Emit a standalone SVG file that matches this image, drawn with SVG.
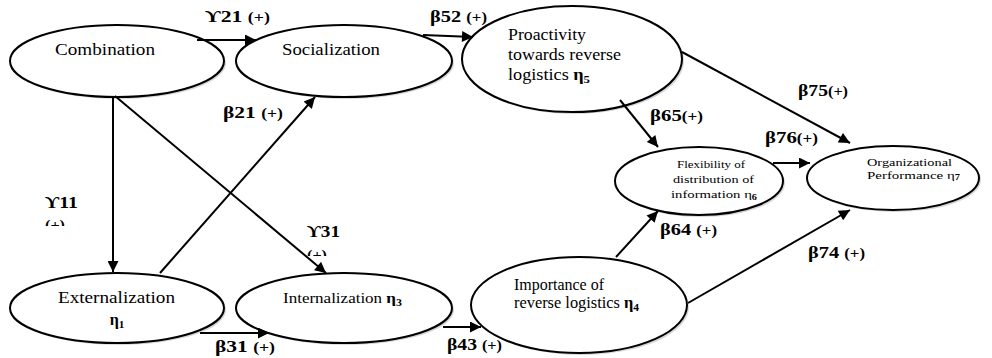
<svg xmlns="http://www.w3.org/2000/svg" width="992" height="358" viewBox="0 0 992 358">
<style>
.n{fill:#fff;stroke:#000;stroke-width:2}
.sh{fill:#bbb;stroke:none;opacity:0.6}
.t{font-family:"Liberation Serif",serif;font-size:16px;fill:#000}
.ts{font-family:"Liberation Serif",serif;font-size:11px;fill:#000}
.eta{font-weight:bold}
.sub{font-size:70%;font-weight:bold}
.c{stroke:#000;stroke-width:2;fill:none;marker-end:url(#ah)}
.l{font-family:"Liberation Serif",serif;font-size:17px;font-weight:bold;fill:#000}
.p{font-size:14px}
</style>
<defs>
<marker id="ah" viewBox="0 0 10 10" refX="10" refY="5" markerWidth="6.5" markerHeight="5.5" markerUnits="strokeWidth" orient="auto">
<path d="M0,0 L10,5 L0,10 z" fill="#000"/>
</marker>
<clipPath id="clip1"><rect x="30" y="210" width="60" height="16"/></clipPath>
<clipPath id="clip2"><rect x="290" y="240" width="60" height="16"/></clipPath>
</defs>
<g id="n-combination">
<ellipse class="sh" cx="119" cy="63" rx="107" ry="36"/>
<ellipse class="n" cx="117" cy="61" rx="107" ry="36"/>
<text class="t" x="55" y="55" textLength="100" lengthAdjust="spacingAndGlyphs">Combination</text>
</g>
<g id="n-socialization">
<ellipse class="sh" cx="346" cy="63" rx="108" ry="36"/>
<ellipse class="n" cx="344" cy="61" rx="108" ry="36"/>
<text class="t" x="282" y="55" textLength="98" lengthAdjust="spacingAndGlyphs">Socialization</text>
</g>
<g id="n-proactivity">
<ellipse class="sh" cx="574" cy="61" rx="110" ry="53"/>
<ellipse class="n" cx="572" cy="59" rx="110" ry="53"/>
<text class="t" x="508" y="40" textLength="78" lengthAdjust="spacingAndGlyphs">Proactivity</text>
<text class="t" x="508" y="60" textLength="113" lengthAdjust="spacingAndGlyphs">towards reverse</text>
<text class="t" x="508" y="80" textLength="82" lengthAdjust="spacingAndGlyphs">logistics <tspan class="eta">η</tspan><tspan class="sub" dy="3">5</tspan></text>
</g>
<g id="n-flexibility">
<ellipse class="sh" cx="701" cy="183" rx="84" ry="34"/>
<ellipse class="n" cx="699" cy="181" rx="84" ry="34"/>
<text class="ts" x="677" y="168" textLength="68" lengthAdjust="spacingAndGlyphs">Flexibility of</text>
<text class="ts" x="673" y="183" textLength="81" lengthAdjust="spacingAndGlyphs">distribution of</text>
<text class="ts" x="671" y="198" textLength="86" lengthAdjust="spacingAndGlyphs">information η<tspan class="sub" dy="2">6</tspan></text>
</g>
<g id="n-organizational">
<ellipse class="sh" cx="895" cy="180" rx="86" ry="32"/>
<ellipse class="n" cx="893" cy="178" rx="86" ry="32"/>
<text class="ts" x="867" y="166" textLength="85" lengthAdjust="spacingAndGlyphs">Organizational</text>
<text class="ts" x="867" y="179" textLength="93" lengthAdjust="spacingAndGlyphs">Performance η<tspan class="sub" dy="1">7</tspan></text>
</g>
<g id="n-externalization">
<ellipse class="sh" cx="119" cy="310" rx="107" ry="35"/>
<ellipse class="n" cx="117" cy="308" rx="107" ry="35"/>
<text class="t" x="58" y="303" textLength="117" lengthAdjust="spacingAndGlyphs">Externalization</text>
<text class="t" x="117" y="325" text-anchor="middle"><tspan class="eta">η</tspan><tspan class="sub" dy="3">1</tspan></text>
</g>
<g id="n-internalization">
<ellipse class="sh" cx="346" cy="310" rx="108" ry="35"/>
<ellipse class="n" cx="344" cy="308" rx="108" ry="35"/>
<text class="t" x="283" y="303" textLength="119" lengthAdjust="spacingAndGlyphs" style="font-size:14px">Internalization <tspan class="eta">η</tspan><tspan class="sub" dy="3">3</tspan></text>
</g>
<g id="n-importance">
<ellipse class="sh" cx="581" cy="307" rx="108" ry="48"/>
<ellipse class="n" cx="579" cy="305" rx="108" ry="48"/>
<text class="t" x="514" y="290" textLength="90" lengthAdjust="spacingAndGlyphs">Importance of</text>
<text class="t" x="514" y="308" textLength="125" lengthAdjust="spacingAndGlyphs">reverse logistics <tspan class="eta">η</tspan><tspan class="sub" dy="3">4</tspan></text>
</g>
<g id="connectors">
<line class="c" x1="197" y1="40" x2="256" y2="40"/>
<line class="c" x1="423" y1="35" x2="473" y2="37"/>
<line class="c" x1="113" y1="97" x2="113" y2="272"/>
<line class="c" x1="115" y1="96" x2="326" y2="273"/>
<line class="c" x1="160" y1="273" x2="315" y2="97"/>
<line class="c" x1="200" y1="333" x2="269" y2="333"/>
<line class="c" x1="443" y1="327" x2="481" y2="327"/>
<line class="c" x1="620" y1="100" x2="658" y2="147"/>
<line class="c" x1="682" y1="52" x2="850" y2="143"/>
<line class="c" x1="773" y1="163" x2="810" y2="163"/>
<line class="c" x1="616" y1="257" x2="658" y2="211"/>
<line class="c" x1="688" y1="303" x2="850" y2="210"/>
</g>
<g id="labels">
<text class="l" x="205" y="22" textLength="65" lengthAdjust="spacingAndGlyphs">ϒ21 <tspan class="p">(+)</tspan></text>
<text class="l" x="430" y="22" textLength="57" lengthAdjust="spacingAndGlyphs">β52 <tspan class="p">(+)</tspan></text>
<text class="l" x="45" y="208" textLength="33" lengthAdjust="spacingAndGlyphs">ϒ11</text>
<text class="l p" x="45" y="230" textLength="20" lengthAdjust="spacingAndGlyphs" clip-path="url(#clip1)">(+)</text>
<text class="l" x="307" y="237" textLength="33" lengthAdjust="spacingAndGlyphs">ϒ31</text>
<text class="l p" x="307" y="260" textLength="20" lengthAdjust="spacingAndGlyphs" clip-path="url(#clip2)">(+)</text>
<text class="l" x="223" y="118" textLength="60" lengthAdjust="spacingAndGlyphs">β21 <tspan class="p">(+)</tspan></text>
<text class="l" x="215" y="352" textLength="60" lengthAdjust="spacingAndGlyphs">β31 <tspan class="p">(+)</tspan></text>
<text class="l" x="447" y="350" textLength="55" lengthAdjust="spacingAndGlyphs">β43 <tspan class="p">(+)</tspan></text>
<text class="l" x="650" y="121" textLength="53" lengthAdjust="spacingAndGlyphs">β65<tspan class="p">(+)</tspan></text>
<text class="l" x="798" y="96" textLength="50" lengthAdjust="spacingAndGlyphs">β75<tspan class="p">(+)</tspan></text>
<text class="l" x="765" y="143" textLength="53" lengthAdjust="spacingAndGlyphs">β76<tspan class="p">(+)</tspan></text>
<text class="l" x="660" y="235" textLength="57" lengthAdjust="spacingAndGlyphs">β64 <tspan class="p">(+)</tspan></text>
<text class="l" x="808" y="258" textLength="57" lengthAdjust="spacingAndGlyphs">β74 <tspan class="p">(+)</tspan></text>
</g>
</svg>
